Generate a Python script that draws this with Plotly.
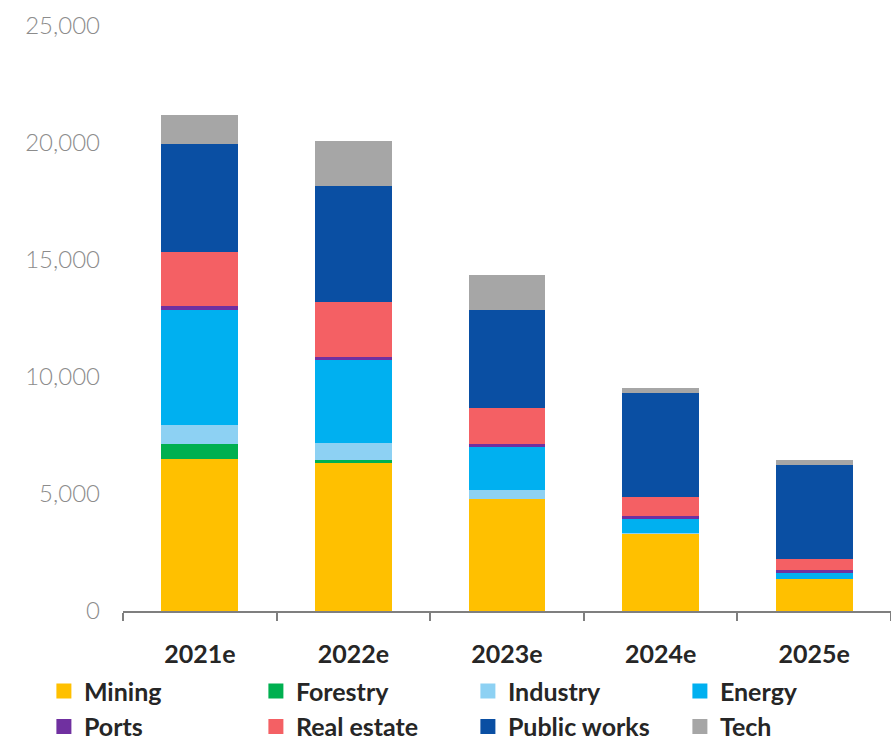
import plotly.graph_objects as go

years = ["2021e", "2022e", "2023e", "2024e", "2025e"]

mining = [6510, 6340, 4770, 3320, 1370]
forestry = [610, 120, 0, 0, 0]
industry = [830, 720, 400, 20, 0]
energy = [4930, 3560, 1850, 610, 270]
ports = [160, 100, 115, 115, 115]
real_estate = [2290, 2365, 1525, 810, 455]
public_works = [4615, 4970, 4200, 4430, 4030]
tech = [1255, 1925, 1500, 240, 215]

series_names = ["Mining", "Forestry", "Industry", "Energy", "Ports",
                "Real estate", "Public works", "Tech"]
series_values = [mining, forestry, industry, energy, ports,
                 real_estate, public_works, tech]
series_colors = ["#FFC000", "#00B050", "#8DD1F3", "#00B0F0", "#7030A0",
                 "#F46064", "#0A4FA3", "#A6A6A6"]

y_tick_vals = [0, 5000, 10000, 15000, 20000, 25000]
y_tick_text = ["0", "5,000", "10,000", "15,000", "20,000", "25,000"]

fig = go.Figure()
for name, vals, col in zip(series_names, series_values, series_colors):
    fig.add_trace(go.Bar(
        x=years, y=vals, name=name, legendgroup=name, showlegend=False,
        marker=dict(color=col, line=dict(width=0)),
    ))
# legend-only entries with larger square swatches
for name, col in zip(series_names, series_colors):
    fig.add_trace(go.Scatter(
        x=[None], y=[None], name=name, legendgroup=name, mode="markers",
        marker=dict(symbol="square", size=15, color=col),
        showlegend=True, hoverinfo="skip",
    ))

fig.update_layout(
    barmode="stack",
    bargap=0.5,
    width=891, height=742,
    margin=dict(l=123, r=0, t=26, b=131, autoexpand=False),
    paper_bgcolor="white",
    plot_bgcolor="white",
    font=dict(family="Lato", color="#262626"),
    showlegend=True,
    legend=dict(
        orientation="h",
        traceorder="normal",
        x=-0.103, xanchor="left",
        y=-0.098, yanchor="top",
        entrywidth=167, entrywidthmode="pixels",
        font=dict(family="Lato", size=25, color="#262626", weight="bold"),
        itemsizing="trace",
        tracegroupgap=0,
    ),
    xaxis=dict(
        showline=True, linecolor="#7f7f7f", linewidth=2,
        ticks="outside", tickson="boundaries", ticklen=8, tickwidth=2,
        tickcolor="#7f7f7f",
        ticklabelstandoff=20,
        tickfont=dict(family="Lato", size=25, color="#262626", weight="bold"),
        showgrid=False,
    ),
    yaxis=dict(
        range=[0, 25000],
        tickvals=y_tick_vals, ticktext=y_tick_text,
        showgrid=False, zeroline=False, showline=False,
        ticks="",
        ticklabelstandoff=22,
        tickfont=dict(family="Lato", size=24, color="#8c8c8c", weight=300),
    ),
)

fig.write_html("out.html")
